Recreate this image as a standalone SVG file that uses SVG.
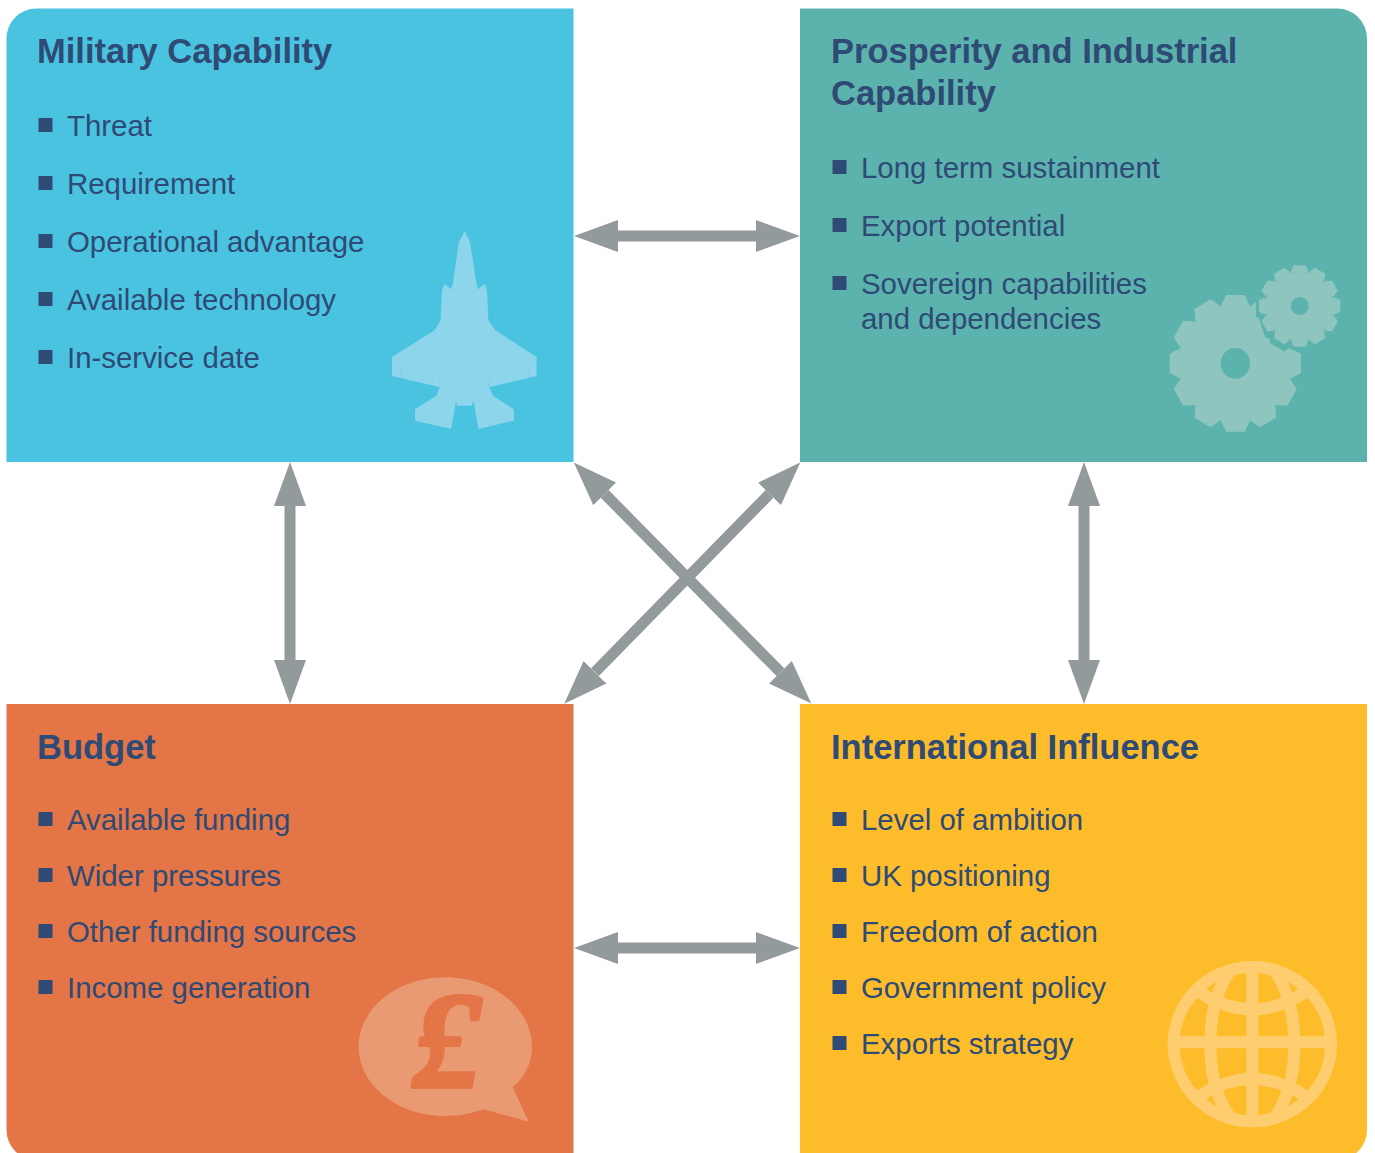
<svg xmlns="http://www.w3.org/2000/svg" width="1375" height="1153" viewBox="0 0 1375 1153">
<style>
text{font-family:"Liberation Sans",Arial,sans-serif;fill:#2E4A75}
.t{font-size:34.5px;font-weight:700}
.i{font-size:29.4px}
.b{fill:#2E4A75}
.c{stroke:#939A9C;stroke-width:11;fill:none;marker-start:url(#h);marker-end:url(#h)}
.g{fill:#8EC6BF}
.gl{fill:none;stroke:#FECD6F;stroke-width:36}
</style>
<defs>
<marker id="h" markerUnits="userSpaceOnUse" markerWidth="46" markerHeight="34" viewBox="0 -17 46 34" refX="0" refY="0" orient="auto-start-reverse"><path d="M0,-16L44,0L0,16Z" fill="#939A9C"/></marker>
<path id="bigtooth" d="M-46,-170L-29,-205L29,-205L46,-170Z" class="g"/>
<path id="smalltooth" d="M-27,-100L-18,-122L18,-122L27,-100Z" class="g"/>
<clipPath id="globeclip"><ellipse cx="307" cy="282.5" rx="254" ry="249.5"/></clipPath>
</defs>
<rect width="1375" height="1153" fill="#fff"/>
<g id="connectors">
<line class="c" x1="618" y1="236" x2="756" y2="236"/>
<line class="c" x1="618" y1="948" x2="756" y2="948"/>
<line class="c" x1="290" y1="506" x2="290" y2="660"/>
<line class="c" x1="1084" y1="506" x2="1084" y2="660"/>
<line class="c" x1="604.7" y1="493.9" x2="780.4" y2="672.2"/>
<line class="c" x1="769.5" y1="493.9" x2="595" y2="672.2"/>
</g>
<g id="military">
<path d="M36.5,8.5H573.5V462H6.5V38.5A30,30 0 0 1 36.5,8.5Z" fill="#4AC3E0"/>
<g transform="translate(370 210) scale(.3333)">
<path fill="#8DD5EB" d="M284,62L301,100L319,220L324,238L344,222L351,240L355,330L375,360L500,441V498L357,532L370,558L432,598V632L325,657L311,575L303,587H263L258,575L243,657L135,632V598L198,558L210,532L66,498V441L195,360L212,330L216,240L224,222L243,238L249,220L266,100Z"/>
<path d="M92,478V505M475,478V505M207,508L212,530M360,508L355,530" stroke="#6FCDE6" stroke-width="2" fill="none"/>
</g>
<text class="t" x="37" y="63">Military Capability</text>
<rect class="b" x="38.5" y="118" width="14" height="14"/><text class="i" x="67" y="136">Threat</text>
<rect class="b" x="38.5" y="176" width="14" height="14"/><text class="i" x="67" y="194">Requirement</text>
<rect class="b" x="38.5" y="234" width="14" height="14"/><text class="i" x="67" y="252">Operational advantage</text>
<rect class="b" x="38.5" y="292" width="14" height="14"/><text class="i" x="67" y="310">Available technology</text>
<rect class="b" x="38.5" y="350" width="14" height="14"/><text class="i" x="67" y="368">In-service date</text>
</g>
<g id="prosperity">
<path d="M800,8.5H1337A30,30 0 0 1 1367,38.5V462H800Z" fill="#5CB3AD"/>
<g transform="translate(1150 250) scale(.3333)">
<g transform="translate(256 340) scale(.96 1)">
<circle r="176" class="g"/>
<use href="#bigtooth"/>
<use href="#bigtooth" transform="rotate(30)"/>
<use href="#bigtooth" transform="rotate(60)"/>
<use href="#bigtooth" transform="rotate(90)"/>
<use href="#bigtooth" transform="rotate(120)"/>
<use href="#bigtooth" transform="rotate(150)"/>
<use href="#bigtooth" transform="rotate(180)"/>
<use href="#bigtooth" transform="rotate(210)"/>
<use href="#bigtooth" transform="rotate(240)"/>
<use href="#bigtooth" transform="rotate(270)"/>
<use href="#bigtooth" transform="rotate(300)"/>
<use href="#bigtooth" transform="rotate(330)"/>
<ellipse rx="46" ry="46" fill="#5CB3AD"/>
</g>
<polygon points="318,120 318,200 327,205 345,262 358,265 360,280 405,305 415,295 460,312 600,100 449,20" fill="#5CB3AD"/>
<g transform="translate(449 168)">
<circle r="102" class="g"/>
<use href="#smalltooth"/>
<use href="#smalltooth" transform="rotate(30)"/>
<use href="#smalltooth" transform="rotate(60)"/>
<use href="#smalltooth" transform="rotate(90)"/>
<use href="#smalltooth" transform="rotate(120)"/>
<use href="#smalltooth" transform="rotate(150)"/>
<use href="#smalltooth" transform="rotate(180)"/>
<use href="#smalltooth" transform="rotate(210)"/>
<use href="#smalltooth" transform="rotate(240)"/>
<use href="#smalltooth" transform="rotate(270)"/>
<use href="#smalltooth" transform="rotate(300)"/>
<use href="#smalltooth" transform="rotate(330)"/>
<circle r="27" fill="#5CB3AD"/>
</g>
</g>
<text class="t" x="831" y="63">Prosperity and Industrial</text>
<text class="t" x="831" y="105">Capability</text>
<rect class="b" x="832.5" y="160" width="14" height="14"/><text class="i" x="861" y="178">Long term sustainment</text>
<rect class="b" x="832.5" y="218" width="14" height="14"/><text class="i" x="861" y="236">Export potential</text>
<rect class="b" x="832.5" y="276" width="14" height="14"/><text class="i" x="861" y="294">Sovereign capabilities</text>
<text class="i" x="861" y="329">and dependencies</text>
</g>
<g id="budget">
<path d="M6.5,704H573.5V1160H36.5A30,30 0 0 1 6.5,1130Z" fill="#E37546"/>
<path transform="translate(340 960) scale(.3333)" fill="#E99A72" d="M56,260C56,145 172,52 316,52C460,52 576,145 576,260C576,310 555,350 518,382L566,485L430,448C395,461 358,468 316,468C172,468 56,375 56,260Z"/>
<text x="447" y="1087" text-anchor="middle" font-size="137" font-weight="700" font-style="italic" stroke="#E37546" stroke-width="4" stroke-linejoin="round" style="font-family:'Liberation Serif',serif;fill:#E37546">£</text>
<text class="t" x="37" y="759">Budget</text>
<rect class="b" x="38.5" y="812" width="14" height="14"/><text class="i" x="67" y="830">Available funding</text>
<rect class="b" x="38.5" y="868" width="14" height="14"/><text class="i" x="67" y="886">Wider pressures</text>
<rect class="b" x="38.5" y="924" width="14" height="14"/><text class="i" x="67" y="942">Other funding sources</text>
<rect class="b" x="38.5" y="980" width="14" height="14"/><text class="i" x="67" y="998">Income generation</text>
</g>
<g id="influence">
<path d="M800,704H1367V1130A30,30 0 0 1 1337,1160H800Z" fill="#FDBD2A"/>
<g transform="translate(1150 950) scale(.3333)">
<ellipse class="gl" cx="307" cy="282.5" rx="236" ry="231.5"/>
<g clip-path="url(#globeclip)">
<ellipse class="gl" cx="307" cy="282.5" rx="126" ry="258"/>
<path class="gl" d="M307,40V525M60,276.5H555"/>
<path class="gl" d="M150,128Q307,228 464,128M150,437Q307,337 464,437"/>
</g>
</g>
<text class="t" x="831" y="759">International Influence</text>
<rect class="b" x="832.5" y="812" width="14" height="14"/><text class="i" x="861" y="830">Level of ambition</text>
<rect class="b" x="832.5" y="868" width="14" height="14"/><text class="i" x="861" y="886">UK positioning</text>
<rect class="b" x="832.5" y="924" width="14" height="14"/><text class="i" x="861" y="942">Freedom of action</text>
<rect class="b" x="832.5" y="980" width="14" height="14"/><text class="i" x="861" y="998">Government policy</text>
<rect class="b" x="832.5" y="1036" width="14" height="14"/><text class="i" x="861" y="1054">Exports strategy</text>
</g>
</svg>
